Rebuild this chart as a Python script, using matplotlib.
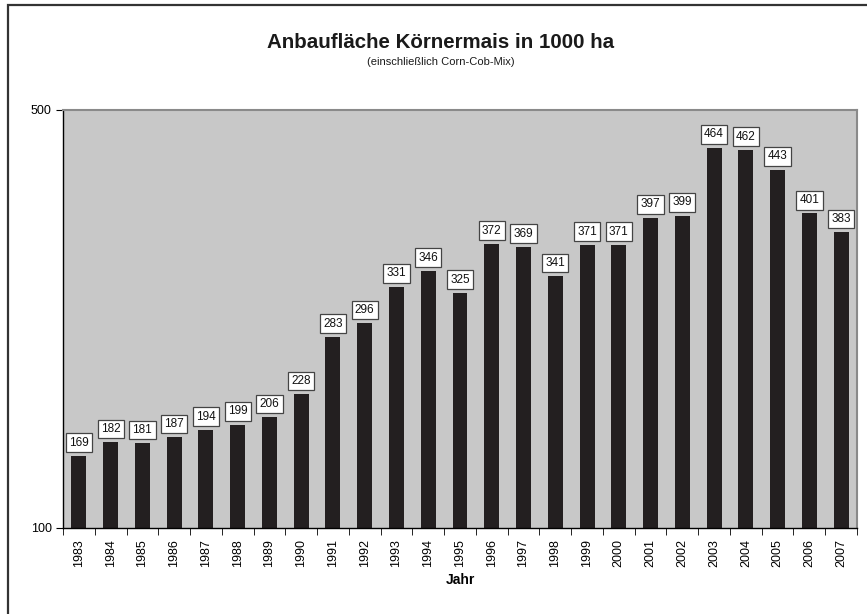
import numpy as np
import matplotlib.pyplot as plt
from matplotlib.patches import Rectangle

plt.rcParams['font.family'] = ['Liberation Sans', 'DejaVu Sans']

jahre = [str(j) for j in range(1983, 2008)]
flaeche = [169, 182, 181, 187, 194, 199, 206, 228, 283, 296, 331, 346, 325,
           372, 369, 341, 371, 371, 397, 399, 464, 462, 443, 401, 383]

W, H = 867, 614
fig = plt.figure(figsize=(W / 100, H / 100), dpi=100)

# Rahmen (rechts/unten abgeschnitten)
fig.patches.append(Rectangle((8 / W, -0.1), 1.2, 1 - 5 / H + 0.1,
                             transform=fig.transFigure, fill=False,
                             edgecolor='#333333', linewidth=1.6))

l, r, t, b = 63, 857, 110, 528
ax = fig.add_axes([l / W, 1 - b / H, (r - l) / W, (b - t) / H])
ax.set_facecolor('#c8c8c8')

x = np.arange(len(jahre))
ax.bar(x, flaeche, width=0.47, color='#231f20', zorder=2)
ax.set_xlim(-0.5, len(jahre) - 0.5)
ax.set_ylim(100, 500)

for xi, v in zip(x, flaeche):
    ax.annotate(str(v), (xi, v), xytext=(0, 9.5), textcoords='offset points',
                ha='center', va='center', fontsize=8.5, color='#111111',
                bbox=dict(boxstyle='square,pad=0.28', fc='white',
                          ec='#444444', lw=0.9), zorder=3)

ax.set_yticks([100, 500])
ax.set_yticklabels(['100', '500'], fontsize=9)
ax.set_xticks(x)
ax.set_xticklabels(jahre, rotation=90, fontsize=9)
ax.tick_params(axis='x', length=0, pad=8)
ax.set_xticks(np.arange(-0.5, len(jahre)), minor=True)
ax.tick_params(axis='x', which='minor', length=5, direction='out', color='black')
ax.tick_params(axis='y', length=5, direction='out', color='black', pad=3)

for s in ['top', 'right']:
    ax.spines[s].set_color('#8a8a8a')
    ax.spines[s].set_linewidth(1.5)
for s in ['left', 'bottom']:
    ax.spines[s].set_color('black')
    ax.spines[s].set_linewidth(1.0)

ax.set_xlabel('Jahr', fontsize=10, fontweight='bold', labelpad=4)

fig.text(441 / W, 1 - 42 / H, 'Anbaufläche Körnermais in 1000 ha',
         ha='center', va='center', fontsize=14.8, fontweight='bold',
         color='#1a1a1a')
fig.text(441 / W, 1 - 62 / H, '(einschließlich Corn-Cob-Mix)',
         ha='center', va='center', fontsize=8, color='#1a1a1a')

fig.savefig('out.png', dpi=100)
